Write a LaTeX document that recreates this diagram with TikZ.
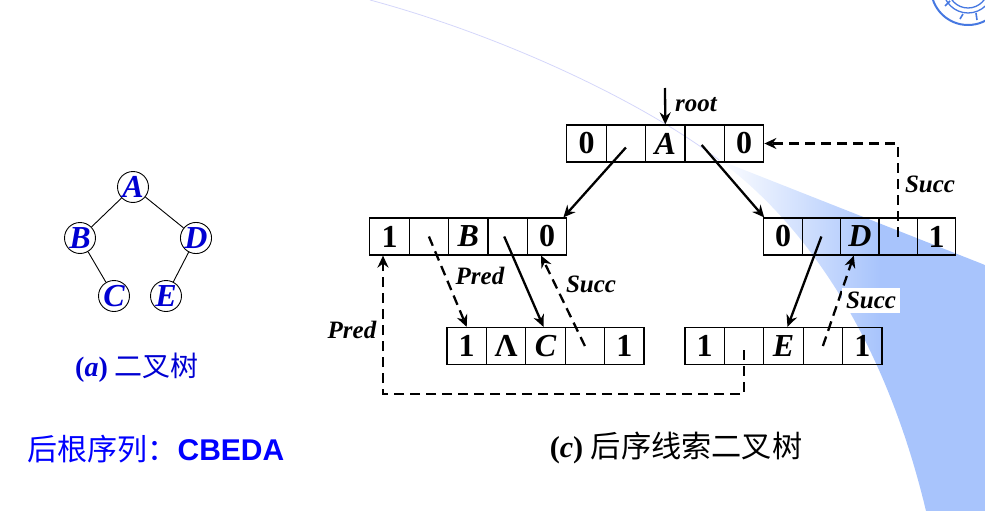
\documentclass[tikz,border=0pt]{standalone}
\usepackage{fontspec}
\usetikzlibrary{arrows.meta}
\setmainfont{Liberation Serif}
\setsansfont{Liberation Sans}
\newfontfamily\cjk{Noto Sans CJK SC}
\definecolor{wedgeblue}{RGB}{168,196,252}
\definecolor{arcblue}{RGB}{212,214,250}
\definecolor{treeblue}{RGB}{0,0,210}
\definecolor{logoblue}{RGB}{70,120,225}
\newcommand{\fsize}[1]{\fontsize{#1}{#1}\selectfont}

\begin{document}
\begin{tikzpicture}[x=1pt, y=-1pt, node distance=39.4pt,
  cell/.style = {draw, line width=1.2pt, minimum width=39.4pt, minimum height=37pt, inner sep=0pt, font=\fsize{32}\bfseries},
  vert/.style = {draw, circle, line width=0.9pt, minimum size=31pt, inner sep=0pt, text=treeblue, font=\fsize{32}\bfseries\itshape},
  link/.style = {line width=2.3pt, -{Stealth[length=12pt,width=11pt,inset=4pt]}},
  thread/.style = {link, dash pattern=on 10pt off 6pt},
  tag/.style = {inner sep=1pt, font=\fsize{25}\bfseries\itshape}]
\useasboundingbox (0,0) rectangle (985,511);

% background
\begin{scope}
\clip (719,160) -- (985,265) -- (985,511) -- (926,511) .. controls (890,360) and (820,235) .. (719,160) -- cycle;
\shade[left color=white, right color=wedgeblue] (715,150) rectangle (880,511);
\fill[wedgeblue] (879.5,150) rectangle (985,511);
\end{scope}
\draw[arcblue, line width=0.8pt] (370,0) .. controls (500,35) and (640,100) .. (719,160);

% logo
\begin{scope}
\clip (0,0) rectangle (985,511);
\draw[logoblue, line width=2pt] (968,-12) circle (37pt);
\draw[logoblue, line width=1.3pt] (968,-12) circle (25pt);
\draw[logoblue, line width=1.3pt] (968,-12) circle (20pt);
\draw[logoblue, line width=1.6pt] (945,6) -- (950,1) (960,19) -- (963,14) (977,20) -- (976,13);
\end{scope}

% binary tree
\node[vert] (A) at (133,187) {A};
\node[vert] (B) at (80,238) {B};
\node[vert] (D) at (196,238) {D};
\node[vert] (C) at (114,296) {C};
\node[vert] (E) at (166,296) {E};
\draw[line width=0.9pt] (A) -- (B);
\draw[line width=0.9pt] (A) -- (D);
\draw[line width=0.9pt] (B) -- (C);
\draw[line width=0.9pt] (D) -- (E);

% threaded nodes
\node[cell] (a1) at (586.5,143.5) {0};
\node[cell] (a2) [right of=a1] {};
\node[cell] (a3) [right of=a2] {\itshape A};
\node[cell] (a4) [right of=a3] {};
\node[cell] (a5) [right of=a4] {0};

\node[cell] (b1) at (389.5,236.5) {1};
\node[cell] (b2) [right of=b1] {};
\node[cell] (b3) [right of=b2] {\itshape B};
\node[cell] (b4) [right of=b3] {};
\node[cell] (b5) [right of=b4] {0};

\node[cell, minimum width=38.4pt] (d1) at (783,236.5) {0};
\node[cell, minimum width=38.4pt] (d2) [right of=d1, node distance=38.4pt] {};
\node[cell, minimum width=38.4pt] (d3) [right of=d2, node distance=38.4pt] {\itshape D};
\node[cell, minimum width=38.4pt] (d4) [right of=d3, node distance=38.4pt] {};
\node[cell, minimum width=38.4pt] (d5) [right of=d4, node distance=38.4pt] {1};

\node[cell] (c1) at (466.7,346) {1};
\node[cell] (c2) [right of=c1] {Λ};
\node[cell] (c3) [right of=c2] {\itshape C};
\node[cell] (c4) [right of=c3] {};
\node[cell] (c5) [right of=c4] {1};

\node[cell] (e1) at (704.7,346) {1};
\node[cell] (e2) [right of=e1] {};
\node[cell] (e3) [right of=e2] {\itshape E};
\node[cell] (e4) [right of=e3] {};
\node[cell] (e5) [right of=e4] {1};

% child links
\coordinate (rootin) at (665,88);
\draw[link] (rootin) -- (a3.north);
\draw[link] ([yshift=-4pt]a2.center) -- ([xshift=-4pt]b5.north east);
\draw[link] ([yshift=-1.5pt,xshift=-3pt]a4.center) -- ([xshift=1pt]d1.north west);
\draw[link] ([xshift=-3.5pt]b4.center) -- ([xshift=-2pt]c3.north);
\draw[link] (d2.center) -- ([xshift=4pt]e3.north);

% threads
\draw[thread] (b2.center) -- (c1.north);
\draw[thread] (c4.center) -- ([xshift=-6pt]b5.south);
\draw[thread] (e4.center) -- ([xshift=-6pt]d3.south);
\draw[thread] (d4.center) |- (a5.east);
\coordinate (predlow) at (383,394);
\coordinate (predup) at ([xshift=-6.5pt]b1.south);
\coordinate (predstart) at ([yshift=-4pt]e2.center);
\draw[thread] (predstart) -- (predstart |- predlow) -- (predlow) -- (predup);

% labels
\node[tag] (rootlab) at (696,105) {root};
\node[tag] (succa) at (930,184) {Succ};
\node[tag] (succb) at (591,284) {Succ};
\node[tag, fill=white, minimum width=58pt, minimum height=25pt] (succc) at (871,300) {Succ};
\node[tag] (preda) at (480,276) {Pred};
\node[tag] (predb) at (352,330) {Pred};

\node[text=treeblue, font=\fsize{28}\bfseries] (capa) at (137,368) {(\textit{a}) {\cjk\mdseries 二叉树}};
\node[text=blue, font=\fsize{30}\bfseries\sffamily] (seq) at (156,449) {{\cjk\mdseries 后根序列：}CBEDA};
\node[font=\fsize{30.2}\bfseries] (capc) at (676,448) {(\textit{c}) {\cjk\mdseries 后序线索二叉树}};
\end{tikzpicture}
\end{document}
